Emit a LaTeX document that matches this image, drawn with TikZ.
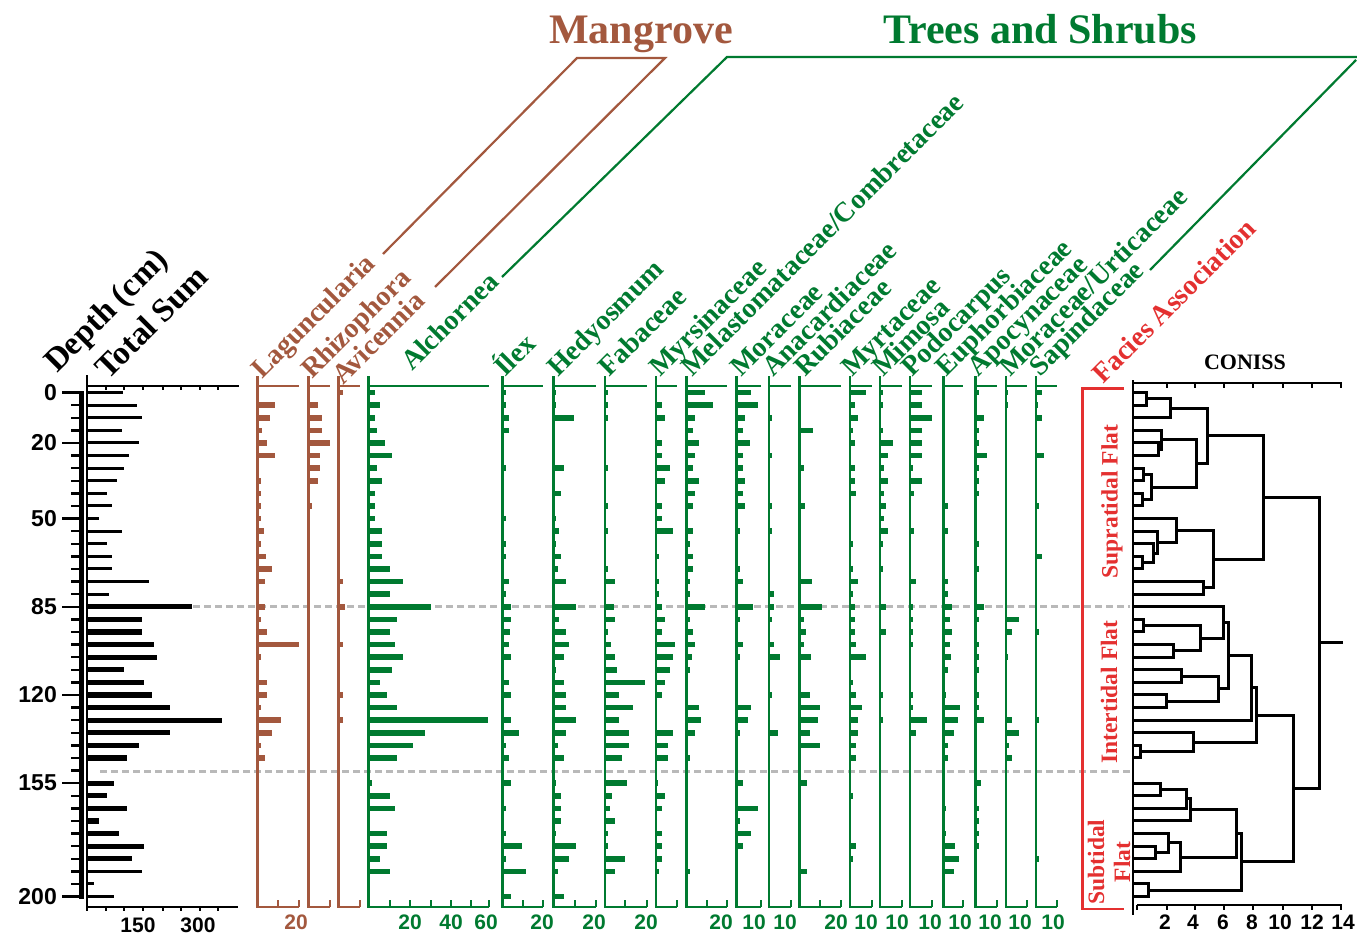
\documentclass[tikz,border=0pt]{standalone}
\usepackage{fontspec}
\setmainfont{Liberation Serif}
\newfontfamily\arialf{Liberation Sans}
\definecolor{mbrown}{RGB}{163,88,62}
\definecolor{tgreen}{RGB}{0,122,48}
\definecolor{fred}{RGB}{228,48,48}
\definecolor{dgray}{RGB}{185,185,185}
\tikzset{
  lab/.style={font=\bfseries\fontsize{28}{28}\selectfont, rotate=45, anchor=base west, inner sep=0pt},
  num/.style={font=\arialf\bfseries\fontsize{21}{21}\selectfont, inner sep=0pt},
  dnum/.style={font=\arialf\bfseries\fontsize{23}{23}\selectfont, inner sep=0pt, anchor=east},
  faci/.style={font=\bfseries\fontsize{23.5}{23.5}\selectfont, text=fred, rotate=90, inner sep=0pt},
  dendro/.style={line width=3pt, line join=miter},
  dashline/.style={dgray, line width=3pt, dash pattern=on 7pt off 4pt},
}
\newcommand\colbars[3]{\foreach \dd/\ll in {#3} {\fill[#2] (#1,{392.5+2.52*\dd-2.8}) rectangle ++(\ll,5.6);}}
\newcommand\colaxis[4]{%
  \draw[#3, line width=2.6pt] (#1,376) -- (#1,908);
  \draw[#3, line width=2.6pt] (#1,386) -- (#2,386);
  \draw[#3, line width=2.2pt] (#1,907) -- (#2,907);
  \foreach \tx in {#4} {\draw[#3, line width=2pt] (\tx,907) -- (\tx,900);}
}
\newcommand\mg[5]{\draw[dendro] (#1,#2) -- (#5,#2) -- (#5,#4) -- (#3,#4);}
\begin{document}
\begin{tikzpicture}[x=1pt,y=-1pt]
\useasboundingbox (0,0) rectangle (1357,936);
\fill[white] (0,0) rectangle (1357,936);

% titles and brackets
\node[font=\bfseries\fontsize{42}{42}\selectfont, text=mbrown, anchor=base, inner sep=0pt] (tmang) at (641,44) {Mangrove};
\node[font=\bfseries\fontsize{42}{42}\selectfont, text=tgreen, anchor=base, inner sep=0pt] (ttree) at (1040,44) {Trees and Shrubs};
\draw[mbrown, line width=2.2pt] (383,254) -- (577,58) -- (665,58) -- (435,287);
\draw[tgreen, line width=2.2pt] (502,277) -- (727,57) -- (1357,57);
\draw[tgreen, line width=2.2pt] (1356,60) -- (1150,270);

% dashed zone lines
\draw[dashline] (193,606.5) -- (1130,606.5);
\draw[dashline] (100,771) -- (1130,771);

% depth axis
\node[lab, text=black, font=\bfseries\fontsize{33}{33}\selectfont] (ldepth) at (57,374) {Depth (cm)};
\node[lab, text=black, font=\bfseries\fontsize{33}{33}\selectfont] (ltot) at (108,381) {Total Sum};
\fill (79.3,390.5) rectangle (84,898.5);
\foreach \d in {0,5,...,200} {\draw[line width=2.4pt] (71,{392.5+2.52*\d}) -- (80,{392.5+2.52*\d});}
\foreach \d in {0,20,50,85,120,155,200} {
  \draw[line width=2.4pt] (62,{392.5+2.52*\d}) -- (80,{392.5+2.52*\d});
  \node[dnum] at (57,{392.5+2.52*\d}) {\d};
}
% total sum
\draw[line width=1.8pt] (87.3,375) -- (87.3,911);
\draw[line width=2.2pt] (87.3,386) -- (239,386);
\draw[line width=2.2pt] (87.3,907) -- (238,907);
\foreach \tx in {106,124,143,163,181,200,218} {\draw[line width=1.6pt] (\tx,386) -- (\tx,390); \draw[line width=1.6pt] (\tx,907) -- (\tx,911);}
\node[num] at (138,925) {150};
\node[num] at (198,925) {300};
\foreach \dd/\ll in {0/35,5/48.7,10/53.7,15/33.7,20/51.3,25/41.3,30/36,35/28.7,40/18.7,45/23.7,50/10.7,55/33.7,60/18.7,65/23.7,70/23.7,75/61.3,80/20.7,190/53.7,195/6.3,200/26.3}
  {\fill (88,{392.5+2.52*\dd-1.5}) rectangle ++(\ll,3);}
\foreach \dd/\ll in {85/104,90/53.7,95/53.7,100/66.3,105/68.7,110/36,115/56.3,120/64.3,125/82,130/134.3,135/82,140/51.3,145/39,155/26.3,160/18.7,165/39,170/11,175/31.3,180/56.3,185/43.7}
  {\fill (88,{392.5+2.52*\dd-2.6}) rectangle ++(\ll,5.2);}

% mangrove columns
\colaxis{257.3}{299}{mbrown}{278,299}
\colbars{257.3}{mbrown}{0/2,5/18,10/13,15/5,20/10,25/18,35/4,40/4,45/4,50/4,55/7,60/4,65/9,70/15,75/8,85/8,90/4,95/10,100/42,105/4,115/10,120/10,125/4,130/24,135/15,140/4,145/8}
\colaxis{308.3}{330}{mbrown}{330}
\colbars{308.3}{mbrown}{5/10,10/14,15/14,20/22,25/12,30/12,35/10,45/4}
\colaxis{338.7}{360}{mbrown}{360}
\colbars{338.7}{mbrown}{0/4,75/4,85/6,100/4,120/4,130/4}
\node[num, text=mbrown] at (296,922) {20};
\node[lab, text=mbrown] (llag) at (262,380) {Laguncularia};
\node[lab, text=mbrown] (lrhi) at (312,380) {Rhizophora};
\node[lab, text=mbrown] (lavi) at (343,386) {Avicennia};

% trees and shrubs columns
\colaxis{368.3}{489}{tgreen}{390,410,431,451,471,489}
\colbars{368.3}{tgreen}{0/7,5/12,10/7,15/9,20/17,25/24,30/9,35/14,40/7,45/7,50/7,55/14,60/14,65/14,70/22,75/35,80/22,85/63,90/29,95/22,100/27,105/35,110/24,115/12,120/19,125/29,130/120,135/57,140/45,145/29,155/4,160/22,165/27,175/19,180/19,185/12,190/22}
\colaxis{502.7}{543}{tgreen}{523,543}
\colbars{502.7}{tgreen}{0/3,5/3,10/6,15/6,30/3,50/3,60/3,65/3,75/6,80/3,85/8,90/8,95/7,100/6,105/8,115/6,120/8,130/8,135/16,140/3,145/6,155/8,165/3,175/3,180/19,185/3,190/23,200/8}
\colaxis{553.3}{596}{tgreen}{575,596}
\colbars{553.3}{tgreen}{0/3,5/3,10/21,30/11,40/8,50/3,55/6,60/3,65/8,70/5,75/13,85/23,90/6,95/13,100/16,105/11,110/3,115/11,120/13,125/13,130/23,135/13,140/5,145/11,155/3,160/8,165/8,170/8,175/3,180/23,185/16,190/5,200/11}
\colaxis{605}{646.7}{tgreen}{625,646.7}
\colbars{605}{tgreen}{0/3,5/3,10/3,30/3,45/3,55/3,70/3,75/10,85/9,90/10,95/3,100/6,105/10,110/12,115/40,120/14,125/28,130/14,135/24,140/24,145/17,155/22,160/7,165/5,170/10,175/3,180/3,185/20,190/10}
\colaxis{656}{676.7}{tgreen}{676.7}
\colbars{656}{tgreen}{5/6,10/9,20/6,25/6,30/14,35/9,45/6,50/6,55/17,65/3,75/3,80/3,85/6,90/9,95/6,100/19,105/17,110/14,115/9,120/6,135/17,140/12,145/12,155/2,160/9,165/6,175/6,180/6,185/6,190/3}
\colaxis{686.7}{727.3}{tgreen}{707,727.3}
\colbars{686.7}{tgreen}{0/18,5/26,10/8,15/6,20/12,25/8,30/6,35/12,40/8,45/6,55/6,60/3,65/6,70/6,75/3,80/3,85/18,90/3,95/6,100/8,105/5,110/3,125/12,130/14,135/8,145/3,190/3}
\colaxis{736.7}{760.7}{tgreen}{760.7}
\colbars{736.7}{tgreen}{0/14,5/21,10/8,15/6,20/13,25/6,30/6,35/8,40/6,45/8,55/3,70/3,75/6,85/16,90/3,100/6,105/3,125/14,130/11,135/3,155/6,165/21,170/3,175/14,180/6}
\colaxis{769}{790.7}{tgreen}{790.7}
\colbars{769}{tgreen}{10/3,25/3,45/3,55/3,80/5,85/5,90/3,100/5,105/11,120/3,135/9}
\colaxis{799.3}{840.7}{tgreen}{820,840.7}
\colbars{799.3}{tgreen}{5/2,15/14,25/2,30/5,45/6,60/2,75/13,80/2,85/23,90/5,95/7,100/5,105/12,120/11,125/21,130/19,135/11,140/21,145/2,155/8,160/2,190/8}
\colaxis{850}{871.7}{tgreen}{871.7}
\colbars{850}{tgreen}{0/16,5/5,10/8,15/3,20/5,30/5,35/5,40/6,60/3,70/3,75/8,80/3,85/5,90/5,95/5,100/6,105/16,115/3,120/6,125/12,130/8,135/8,140/6,145/6,160/3,180/6,185/3}
\colaxis{880}{901.7}{tgreen}{901.7}
\colbars{880}{tgreen}{0/3,5/3,15/3,20/13,25/8,30/4,35/8,40/4,45/6,50/4,55/8,60/3,70/3,85/6,95/6,120/3,130/3}
\colaxis{910}{931.7}{tgreen}{931.7}
\colbars{910}{tgreen}{0/12,5/12,10/22,15/12,20/12,25/12,30/3,35/12,40/4,55/4,75/6,85/3,90/3,95/3,100/3,120/3,125/3,130/17,135/6}
\colaxis{943.3}{963.3}{tgreen}{963.3}
\colbars{943.3}{tgreen}{45/5,55/5,75/5,80/5,85/9,90/7,95/9,100/7,105/8,110/5,120/3,125/17,130/15,135/11,140/5,145/5,165/3,175/3,180/12,185/16,190/11}
\colaxis{975.7}{996.7}{tgreen}{996.7}
\colbars{975.7}{tgreen}{0/3,10/8,15/3,20/3,25/11,30/3,35/3,40/3,60/3,70/3,85/8,90/3,100/3,105/3,110/3,120/3,125/3,130/8,155/5,165/3,170/3,175/3,180/3}
\colaxis{1006}{1026.7}{tgreen}{1026.7}
\colbars{1006}{tgreen}{0/2,5/2,90/13,95/6,105/2,130/6,135/13,140/3,145/6}
\colaxis{1036}{1056.7}{tgreen}{1056.7}
\colbars{1036}{tgreen}{0/6,5/2,10/6,25/8,45/3,65/6,95/3,130/3,185/3}

\foreach \tx/\tt in {410/20,451/40,486/60,542/20,594/20,646/20,721/20,754/10,785/10,836/20,866/10,897/10,930/10,960/10,990/10,1020/10,1053/10}
  {\node[num, text=tgreen] at (\tx,922) {\tt};}

\node[lab, text=tgreen] (lalc) at (412,372) {Alchornea};
\node[lab, text=tgreen] (lile) at (505,378) {Ílex};
\node[lab, text=tgreen] (lhed) at (558,378) {Hedyosmum};
\node[lab, text=tgreen] (lfab) at (609,378) {Fabaceae};
\node[lab, text=tgreen] (lmyr) at (660,378) {Myrsinaceae};
\node[lab, text=tgreen] (lmel) at (692,378) {Melastomataceae/Combretaceae};
\node[lab, text=tgreen] (lmor) at (741,378) {Moraceae};
\node[lab, text=tgreen] (lana) at (773,378) {Anacardiaceae};
\node[lab, text=tgreen] (lrub) at (805,378) {Rubiaceae};
\node[lab, text=tgreen] (lmyt) at (852,378) {Myrtaceae};
\node[lab, text=tgreen] (lmim) at (883,378) {Mimosa};
\node[lab, text=tgreen] (lpod) at (912,378) {Podocarpus};
\node[lab, text=tgreen] (leup) at (946,378) {Euphorbiaceae};
\node[lab, text=tgreen] (lapo) at (978,378) {Apocynaceae};
\node[lab, text=tgreen] (lmur) at (1010,378) {Moraceae/Urticaceae};
\node[lab, text=tgreen] (lsap) at (1040,378) {Sapindaceae};
\node[lab, text=fred] (lfac) at (1103,385) {Facies Association};

% facies bracket
\draw[fred, line width=2.4pt] (1124,388.3) -- (1082.5,388.3) -- (1082.5,909) -- (1124,909);
\node[faci] (fsup) at (1112,501.5) {Supratidal Flat};
\node[faci] (fint) at (1109,692) {Intertidal Flat};
\node[faci] (fsub) at (1096,862) {Subtidal};
\node[faci] (fflat) at (1122,862) {Flat};

% CONISS
\node[font=\bfseries\fontsize{22}{22}\selectfont, inner sep=0pt] (tcon) at (1245,362.5) {CONISS};
\draw[line width=2.8pt] (1133,380) -- (1133,915);
\draw[line width=2.4pt] (1133,383) -- (1342,383);
\draw[line width=2.4pt] (1137,905) -- (1342,905);
\foreach \tx in {1167,1195,1224,1253,1283,1312,1341} {\draw[line width=2pt] (\tx,383) -- (\tx,388);}
\foreach \tx in {1137,1167,1195,1224,1253,1283,1312,1341} {\draw[line width=2pt] (\tx,905) -- (\tx,910);}
\foreach \tx/\tt in {1165/2,1193/4,1223/6,1252/8,1280/10,1312/12,1343/14} {\node[num, text=black] at (\tx,922) {\tt};}

% dendrogram
\mg{1133}{392.5}{1133}{405.1}{1146.7}
\mg{1146.7}{398.8}{1133}{417.7}{1170}
\mg{1133}{442.9}{1133}{455.5}{1158.3}
\mg{1133}{430.3}{1158.3}{449.2}{1161.7}
\mg{1133}{468.1}{1133}{480.7}{1143}
\mg{1133}{493.3}{1133}{505.9}{1142}
\mg{1143}{474.4}{1142}{499.6}{1151.7}
\mg{1161.7}{439.75}{1151.7}{487}{1196}
\mg{1170}{408.25}{1196}{463.4}{1207.7}
\mg{1133}{556.3}{1133}{568.9}{1142}
\mg{1133}{543.7}{1142}{562.6}{1153.3}
\mg{1133}{531.1}{1153.3}{553.15}{1157}
\mg{1133}{518.5}{1157}{542.1}{1176.7}
\mg{1133}{581.5}{1133}{594.1}{1203}
\mg{1176.7}{530.3}{1203}{587.8}{1213.3}
\mg{1207.7}{435.8}{1213.3}{559.05}{1263.3}
\mg{1133}{619.3}{1133}{631.9}{1143}
\mg{1133}{644.5}{1133}{657.1}{1173.3}
\mg{1143}{625.6}{1173.3}{650.8}{1200}
\mg{1133}{606.7}{1200}{638.2}{1223.3}
\mg{1133}{669.7}{1133}{682.3}{1181.7}
\mg{1133}{694.9}{1133}{707.5}{1166}
\mg{1181.7}{676}{1166}{701.2}{1218.3}
\mg{1223.3}{622.45}{1218.3}{688.6}{1228.3}
\mg{1228.3}{655.5}{1133}{720.1}{1251.7}
\mg{1133}{745.3}{1133}{757.9}{1140}
\mg{1133}{732.7}{1140}{751.6}{1193.3}
\mg{1251.7}{687.8}{1193.3}{742.15}{1256}
\mg{1133}{783.1}{1133}{795.7}{1160.7}
\mg{1160.7}{789.4}{1133}{808.3}{1186}
\mg{1186}{798.85}{1133}{820.9}{1190.7}
\mg{1133}{846.1}{1133}{858.7}{1155}
\mg{1133}{833.5}{1155}{852.4}{1168.3}
\mg{1168.3}{842.95}{1133}{871.3}{1180}
\mg{1190.7}{809.9}{1180}{857.1}{1236}
\mg{1133}{883.9}{1133}{896.5}{1148.3}
\mg{1236}{833.5}{1148.3}{890.2}{1241.7}
\mg{1256}{715}{1241.7}{861.85}{1293.3}
\mg{1263.3}{497.4}{1293.3}{788.4}{1319.3}
\draw[dendro] (1319.3,642.9) -- (1343,642.9);
\end{tikzpicture}
\end{document}
